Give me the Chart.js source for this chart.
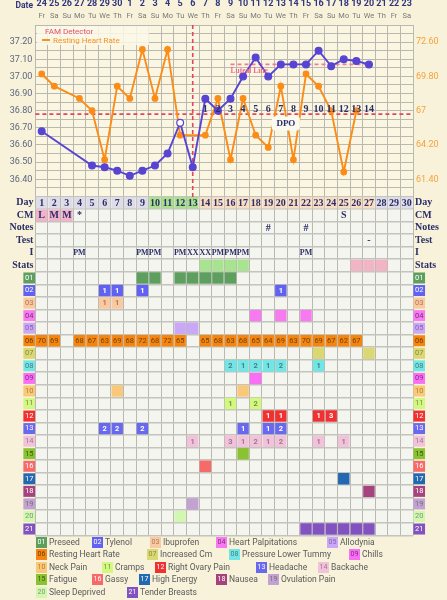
<!DOCTYPE html>
<html>
<head>
<meta charset="utf-8">
<script src="https://cdn.jsdelivr.net/npm/chart.js@4.4.1/dist/chart.umd.min.js"></script>
<style>
  html, body { margin: 0; padding: 0; width: 447px; height: 600px; overflow: hidden; background: #f7f2d9; font-family: Roboto, sans-serif; }
  #wrap { position: absolute; left: 0; top: -8px; width: 447px; height: 608px; }
  #dateLbl { position: absolute; left: 0; top: 0; width: 33px; text-align: right; font: bold 8.5px Roboto; color: #2f3478; }
  #famLegend { position: absolute; left: 37px; top: 26px; width: 112px; height: 19px; background: rgba(251, 248, 233, 0.85); font: 8px Roboto; }
  #famLegend div { position: absolute; left: 8px; white-space: nowrap; }
  #famLegend .mk { display: inline-block; width: 8px; height: 2px; background: #f7901e; vertical-align: middle; margin: 0 3px 1px -3px; }
  #symLegend .item { position: absolute; white-space: nowrap; font: 8.5px Roboto; color: #5a5a5a; line-height: 11px; }
  #symLegend .code { display: inline-block; width: 11px; height: 11px; font: 7px Roboto; text-align: center; line-height: 11px; margin-right: 2px; vertical-align: top; }
</style>
</head>
<body>
<div id="wrap"><canvas id="chart" width="447" height="608"></canvas></div>
<div id="dateLbl">Date</div>
<div id="famLegend">
  <div style="top:1px;color:#e0506e">FAM Detector</div>
  <div style="top:10px;color:#f7901e"><span class="mk"></span>Resting Heart Rate</div>
</div>
<div id="symLegend"></div>
<script>
// ---- chart data ----
const cycleDays = ['1','2','3','4','5','6','7','8','9','10','11','12','13','14','15',
  '16','17','18','19','20','21','22','23','24','25','26','27','28','29','30'];
const dates = ['24','25','26','27','28','29','30','1','2','3','4','5','6','7','8',
  '9','10','11','12','13','14','15','16','17','18','19','20','21','22','23'];
const weekdays = ['Fr','Sa','Su','Mo','Tu','We','Th','Fr','Sa','Su','Mo','Tu','We','Th','Fr',
  'Sa','Su','Mo','Tu','We','Th','Fr','Sa','Su','Mo','Tu','We','Th','Fr','Sa'];

// waking temperature (C)
const temps = [36.68, null, null, null, 36.48, 36.47, 36.45, 36.42, 36.45, 36.48, 36.55, 36.73, 36.47, 36.87, 36.80,
  36.87, 37.00, 37.11, 37.00, 37.07, 37.07, 37.07, 37.15, 37.06, 37.10, 37.09, 37.07, null, null, null];
const openTempDays = [12];
// resting heart rate (bpm)
const restingHR = [70, 69, null, 68, 67, 63, 69, 68, 72, 68, 72, 65, null, 65, 68,
  63, 68, 65, 64, 69, 63, 70, 69, 67, 62, 67, null, null, null, null];

const tempTickLabels = ['36.40','36.50','36.60','36.70','36.80','36.90','37.00','37.10','37.20'];
const hrTicks = [61.4, 64.2, 67, 69.8, 72.6];
const hrTickLabels = ['61.40','64.20','67','69.80','72.60'];

const coverTemp = 36.78;
const ovulationDay = 13;
const lutealTemp = 37.07;
const lutealFrom = 16, lutealTo = 27;

// table rows
const infoRows = ['Day','CM','Notes','Test','I','Stats'];
const symptomCodes = ['01','02','03','04','05','06','07','08','09','10','11',
  '12','13','14','15','16','17','18','19','20','21'];
const symptomNames = ['Preseed','Tylenol','Ibuprofen','Heart Palpitations','Allodynia',
  'Resting Heart Rate','Increased Cm','Pressure Lower Tummy','Chills','Neck Pain','Cramps',
  'Right Ovary Pain','Headache','Backache','Fatigue','Gassy','High Energy','Nausea',
  'Ovulation Pain','Sleep Deprived','Tender Breasts'];

const fertileDays = [10, 11, 12, 13];
const lutealDays = [14, 15, 16, 17, 18, 19, 20, 21, 22, 23, 24, 25, 26, 27];
const cmObs = [[1,'L'],[2,'M'],[3,'M'],[4,'*'],[25,'S']];
const noteObs = [[19,'#'],[22,'#']];
const testObs = [[27,'-']];
const intercourse = [[4,'PM'],[9,'PM'],[10,'PM'],[12,'PM'],[13,'XX'],[14,'XX'],
  [15,'PM'],[16,'PM'],[17,'PM'],[22,'PM']];
const statsHigh = [14, 15, 16, 17];
const statsPeriod = [26, 27, 28];

// [day, count] per symptom row (row 06 is taken from restingHR)
const symptomMarks = [
  [[9,''],[10,''],[12,''],[13,''],[14,''],[15,''],[16,'']],
  [[6,'1'],[7,'1'],[9,'1'],[20,'1']],
  [[6,'1'],[7,'1']],
  [[18,''],[20,''],[22,'']],
  [[12,''],[13,'']],
  null,
  [[23,''],[27,'']],
  [[16,'2'],[17,'1'],[18,'2'],[19,'1'],[20,'2'],[23,'1']],
  [[18,'']],
  [[7,''],[17,'']],
  [[16,'1'],[18,'2']],
  [[19,'1'],[20,'1'],[23,'1'],[24,'3']],
  [[6,'2'],[7,'2'],[9,'2'],[17,'1'],[19,'1'],[20,'2']],
  [[13,'1'],[16,'3'],[17,'1'],[18,'2'],[19,'1'],[20,'2'],[23,'1'],[25,'1']],
  [[17,'']],
  [[14,'']],
  [[25,'']],
  [[27,'']],
  [[13,'']],
  [[12,'']],
  [[22,''],[23,''],[24,''],[25,''],[26,''],[27,'']]
];

// ---- styles ----
const symptomColors = ['#5e9f60','#6262f2','#f9c9a2','#f87af0','#c9a8f7','#f5850f','#d9d873',
  '#72e6e6','#f86ff5','#f9c879','#d2f882','#ef3131','#6969f0','#f2c2da','#8bc232','#f76a6a',
  '#2269b2','#a5437f','#c1a2d0','#d2f7b1','#8152c0'];
const symptomInk = ['#fff','#fff','#b07a50','#7a2a7a','#8a60b0','#6a3a00','#8a8a40',
  '#4a7a80','#8a2a8a','#b0803a','#7a9040','#fff','#fff','#9a7a8a','#3a5a10','#fff',
  '#fff','#fff','#7a6a80','#7a9a70','#fff'];
const navy = '#2b2e68';
const blue = '#5844d2';
const orange = '#fb8c18';
const serif = '"Liberation Serif", "DejaVu Serif", serif';

// ---- table cells ----
const cells = [];
cycleDays.forEach((d, i) => {
  const day = i + 1;
  let fill = '#dedde7';
  if (fertileDays.includes(day)) fill = '#a9e08d';
  else if (lutealDays.includes(day)) fill = '#f9ddc2';
  cells.push({x: d, y: 'Day', fill, text: d, kind: 'day'});
});
cmObs.forEach(([day, t]) => cells.push({x: String(day), y: 'CM',
  fill: (t === 'L' || t === 'M') ? '#f1b2ca' : 'rgba(0,0,0,0)', text: t, kind: 'obs'}));
noteObs.forEach(([day, t]) => cells.push({x: String(day), y: 'Notes', fill: 'rgba(0,0,0,0)', text: t, kind: 'obs'}));
testObs.forEach(([day, t]) => cells.push({x: String(day), y: 'Test', fill: 'rgba(0,0,0,0)', text: t, kind: 'obs'}));
intercourse.forEach(([day, t]) => cells.push({x: String(day), y: 'I', fill: 'rgba(0,0,0,0)', text: t, kind: 'sex'}));
statsHigh.forEach(day => cells.push({x: String(day), y: 'Stats', fill: '#a8e48f', text: '', kind: 'obs'}));
statsPeriod.forEach(day => cells.push({x: String(day), y: 'Stats', fill: '#f2b5c5', text: '', kind: 'obs'}));
symptomMarks.forEach((marks, r) => {
  const code = symptomCodes[r];
  if (marks === null) {
    restingHR.forEach((v, i) => {
      if (v !== null) cells.push({x: cycleDays[i], y: code, fill: symptomColors[r], text: String(v), kind: 'hr', ink: '#6f4208'});
    });
    return;
  }
  marks.forEach(([day, t]) => cells.push({x: String(day), y: code, fill: symptomColors[r], text: t, kind: 'sym', ink: symptomInk[r]}));
});

const tableRows = infoRows.concat(symptomCodes);

// ---- plugins ----
function dash(ctx, x1, y1, x2, y2) {
  ctx.beginPath(); ctx.moveTo(x1, y1); ctx.lineTo(x2, y2); ctx.stroke();
}

const backdrop = {
  id: 'backdrop',
  beforeDraw(chart) {
    const {ctx, chartArea: a, scales} = chart;
    ctx.save();
    ctx.fillStyle = '#faf6e1';
    ctx.fillRect(a.left, scales.y.top, a.width, scales.y.bottom - scales.y.top);
    ctx.fillStyle = '#f5f5f0';
    ctx.fillRect(a.left, scales.yT.top, a.width, scales.yT.bottom - scales.yT.top);
    ctx.restore();
  }
};

const fam = {
  id: 'fam',
  beforeDatasetsDraw(chart) {
    const {ctx, chartArea: a, scales: {x, y}} = chart;
    ctx.save();
    ctx.lineWidth = 1.6;
    ctx.setLineDash([4, 3]);
    ctx.strokeStyle = '#e2465c';
    const cy = y.getPixelForValue(coverTemp);
    dash(ctx, a.left, cy, a.right, cy);
    const ox = x.getPixelForValue(ovulationDay - 1);
    dash(ctx, ox, a.top, ox, y.bottom + 4);
    ctx.strokeStyle = '#f27a92';
    const ly = y.getPixelForValue(lutealTemp);
    dash(ctx, x.getPixelForValue(lutealFrom - 1), ly, x.getPixelForValue(lutealTo - 1) + 4, ly);
    ctx.restore();
  },
  afterDatasetsDraw(chart) {
    const {ctx, scales: {x, y}} = chart;
    ctx.save();
    ctx.textAlign = 'center';
    ctx.textBaseline = 'middle';
    // days past ovulation
    const cy = y.getPixelForValue(coverTemp);
    ctx.fillStyle = navy;
    ctx.font = 'bold 10px ' + serif;
    temps.forEach((t, i) => {
      const day = i + 1;
      if (t !== null && day > ovulationDay) ctx.fillText(String(day - ovulationDay), x.getPixelForValue(i), cy - 5);
    });
    // luteal label
    ctx.textAlign = 'left';
    ctx.fillStyle = '#f06a86';
    ctx.font = 'bold 7.5px ' + serif;
    ctx.fillText('Luteal Line', x.getPixelForValue(lutealFrom - 1), y.getPixelForValue(37.03));
    // DPO tag
    const dx = x.getPixelForValue(19.4), dy = y.getPixelForValue(36.725);
    ctx.fillStyle = '#fbfaf1';
    ctx.beginPath();
    ctx.roundRect(dx - 14, dy - 7, 28, 14, 3);
    ctx.fill();
    ctx.textAlign = 'center';
    ctx.fillStyle = navy;
    ctx.font = 'bold 9px ' + serif;
    ctx.fillText('DPO', dx, dy);

    // table text
    const meta = chart.getDatasetMeta(2);
    const data = chart.data.datasets[2].data;
    meta.data.forEach((el, i) => {
      const c = data[i];
      if (!c.text) return;
      if (c.kind === 'day' || c.kind === 'obs') {
        ctx.font = 'bold 10px ' + serif; ctx.fillStyle = navy;
      } else if (c.kind === 'sex') {
        ctx.font = 'bold 8px ' + serif; ctx.fillStyle = navy;
      } else if (c.kind === 'hr') {
        ctx.font = '7.5px Roboto'; ctx.fillStyle = c.ink;
      } else {
        ctx.font = 'bold 7.5px Roboto'; ctx.fillStyle = c.ink;
      }
      ctx.fillText(c.text, el.x, el.y + 0.5);
    });
    ctx.restore();
  }
};

// ---- chart ----
const gridGray = '#b9b9b1';
new Chart(document.getElementById('chart').getContext('2d'), {
  type: 'line',
  data: {
    labels: cycleDays,
    datasets: [
      {
        label: 'Temperature',
        data: temps,
        xAxisID: 'x', yAxisID: 'y',
        borderColor: blue, borderWidth: 1.9,
        pointRadius: 3.4, pointBorderWidth: 1.2, pointBorderColor: blue,
        pointBackgroundColor: c => openTempDays.includes(c.dataIndex + 1) ? '#ffffff' : blue,
        spanGaps: true,
        segment: { borderDash: c => (c.p1DataIndex - c.p0DataIndex > 1 ? [4, 4] : undefined) }
      },
      {
        label: 'Resting Heart Rate',
        data: restingHR,
        xAxisID: 'x', yAxisID: 'y1',
        borderColor: orange, borderWidth: 1.9,
        pointRadius: 3.4, pointBorderWidth: 0, pointBackgroundColor: orange,
        spanGaps: true
      },
      {
        type: 'scatter',
        label: 'Table',
        data: cells,
        xAxisID: 'x', yAxisID: 'yT',
        pointStyle: 'rect',
        pointRadius: 8.1, pointHoverRadius: 8.1, pointBorderWidth: 0,
        pointBackgroundColor: c => (c.raw ? c.raw.fill : 'rgba(0,0,0,0)')
      }
    ]
  },
  options: {
    responsive: false,
    devicePixelRatio: 1,
    animation: false,
    events: [],
    layout: { padding: { top: 0, left: 0, right: 0, bottom: 64.7 } },
    plugins: { legend: { display: false }, tooltip: { enabled: false } },
    scales: {
      x: {
        type: 'category', position: 'top', weight: 1,
        offset: true,
        grid: { color: gridGray, lineWidth: 1, offset: true, drawTicks: false },
        border: { color: gridGray },
        ticks: { autoSkip: false, maxRotation: 0, minRotation: 0, padding: 4,
          color: '#7a7a7a', font: { family: 'Roboto', size: 7.5 },
          callback: (v, i) => weekdays[i] },
        afterFit: s => { s.height = 16; }
      },
      xDate: {
        type: 'category', position: 'top', weight: 2,
        offset: true,
        grid: { display: false, drawTicks: false },
        border: { display: false },
        ticks: { autoSkip: false, maxRotation: 0, minRotation: 0, padding: 0,
          color: '#30357e', font: { family: 'Roboto', size: 9, weight: 'bold' },
          callback: (v, i) => dates[i] },
        afterFit: s => { s.height = 17; }
      },
      y: {
        type: 'linear', position: 'left', stack: 'left', stackWeight: 171.4, weight: 2,
        min: 36.3, max: 37.3,
        grid: { color: gridGray, lineWidth: 1, drawTicks: false },
        border: { display: false },
        ticks: { stepSize: 0.05, autoSkip: false, maxTicksLimit: 100, padding: 3,
          color: '#5c6580', font: { family: 'Roboto', size: 9 },
          callback: v => { const s = v.toFixed(2); return tempTickLabels.includes(s) ? s : ''; } },
        afterFit: s => { s.width = 35.4; }
      },
      yT: {
        type: 'category', position: 'left', stack: 'left', stackWeight: 338.9, weight: 1,
        labels: tableRows,
        offset: true,
        grid: { color: '#c4c4be', lineWidth: 1.4, offset: true, drawTicks: false },
        border: { display: false },
        ticks: { autoSkip: false, padding: 2,
          color: c => c.index < 6 ? navy : symptomInk[c.index - 6],
          font: c => c.index < 6 ? { family: serif, size: 10, weight: 'bold' } : { family: 'Roboto', size: 7.5 },
          showLabelBackdrop: c => c.index >= 6,
          backdropColor: c => c.index >= 6 ? symptomColors[c.index - 6] : 'rgba(0,0,0,0)',
          backdropPadding: { top: 1, bottom: 1, left: 1.6, right: 1.6 } },
        afterFit: s => { s.width = 35.4; }
      },
      y1: {
        type: 'linear', position: 'right', stack: 'right', stackWeight: 171.4, weight: 1,
        min: 60, max: 74,
        grid: { display: false, drawTicks: false },
        border: { display: false },
        afterBuildTicks: s => { s.ticks = hrTicks.map(v => ({ value: v })); },
        ticks: { autoSkip: false, padding: 3, color: '#f6a23c', font: { family: 'Roboto', size: 9 },
          callback: (v, i) => hrTickLabels[i] },
        afterFit: s => { s.width = 34; }
      },
      yT2: {
        type: 'category', position: 'right', stack: 'right', stackWeight: 338.9, weight: 2,
        labels: tableRows,
        offset: true,
        grid: { display: false, drawTicks: false },
        border: { display: false },
        ticks: { autoSkip: false, padding: 2,
          color: c => c.index < 6 ? navy : symptomInk[c.index - 6],
          font: c => c.index < 6 ? { family: serif, size: 10, weight: 'bold' } : { family: 'Roboto', size: 7.5 },
          showLabelBackdrop: c => c.index >= 6,
          backdropColor: c => c.index >= 6 ? symptomColors[c.index - 6] : 'rgba(0,0,0,0)',
          backdropPadding: { top: 1, bottom: 1, left: 1.6, right: 1.6 } },
        afterFit: s => { s.width = 34; }
      }
    }
  },
  plugins: [backdrop, fam]
});

// ---- symptom legend (html) ----
const legendRowOf = [0,0,0,0,0, 1,1,1,1, 2,2,2,2,2, 3,3,3,3,3, 4,4];
const legendLeft = [36,92,150,216,327, 36,147,229,349, 36,102,155,256,318, 36,92,139,216,268, 36,127];
const legendBox = document.getElementById('symLegend');
symptomCodes.forEach((code, i) => {
  const item = document.createElement('div');
  item.className = 'item';
  item.style.left = legendLeft[i] + 'px';
  item.style.top = (537 + legendRowOf[i] * 12.4) + 'px';
  const box = document.createElement('span');
  box.className = 'code';
  box.style.background = symptomColors[i];
  box.style.color = symptomInk[i];
  box.textContent = code;
  item.appendChild(box);
  item.appendChild(document.createTextNode(symptomNames[i]));
  legendBox.appendChild(item);
});
</script>
</body>
</html>
